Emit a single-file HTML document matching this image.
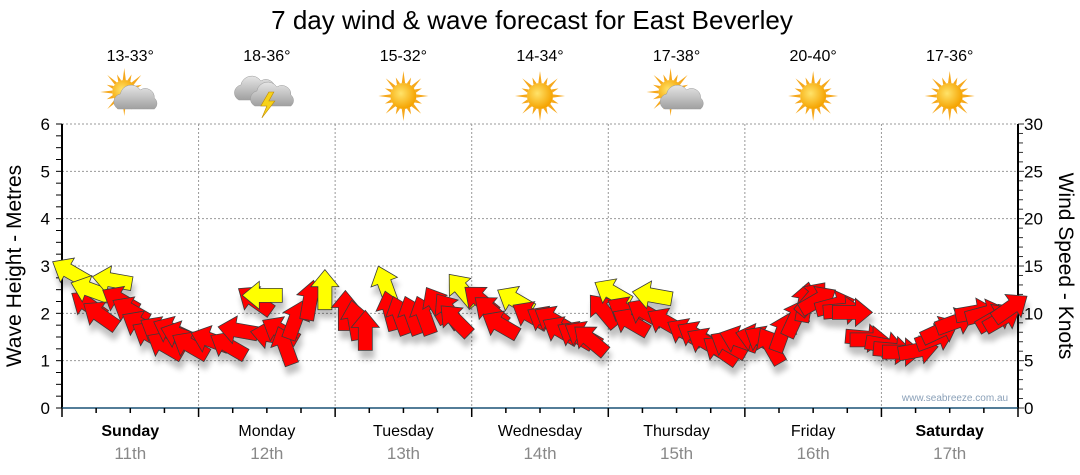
<!DOCTYPE html>
<html><head><meta charset="utf-8"><style>
html,body{margin:0;padding:0;background:#fff;}
svg{display:block;font-family:"Liberation Sans",sans-serif;}
</style></head><body>
<svg id="c" width="1080" height="475" viewBox="0 0 1080 475">
<defs>
<filter id="sh" x="-50%" y="-50%" width="200%" height="200%"><feGaussianBlur in="SourceAlpha" stdDeviation="3"/><feOffset dx="2" dy="8"/><feComponentTransfer><feFuncA type="linear" slope="0.25"/></feComponentTransfer><feMerge><feMergeNode/><feMergeNode in="SourceGraphic"/></feMerge></filter>
<radialGradient id="sunG" cx="40%" cy="40%" r="60%"><stop offset="0" stop-color="#ffe36a"/><stop offset="1" stop-color="#f5a300"/></radialGradient>
<linearGradient id="cloudG" x1="0" y1="0" x2="0" y2="1"><stop offset="0" stop-color="#e6e6e6"/><stop offset="1" stop-color="#a0a0a0"/></linearGradient>
</defs>
<text x="532" y="29" text-anchor="middle" font-size="26" fill="#000">7 day wind &amp; wave forecast for East Beverley</text>
<g id="grid"></g>
<g id="axes"></g>
<g id="icons"></g>
<g id="arrows" filter="url(#sh)"></g>
<text x="955" y="401" text-anchor="middle" font-size="10" fill="#8aa0b8">www.seabreeze.com.au</text>
<text transform="translate(21,266) rotate(-90)" text-anchor="middle" font-size="21">Wave Height - Metres</text>
<text transform="translate(1059,266) rotate(90)" text-anchor="middle" font-size="21">Wind Speed - Knots</text>
</svg>
<script>
const days=["Sunday","Monday","Tuesday","Wednesday","Thursday","Friday","Saturday"];
const dates=["11th","12th","13th","14th","15th","16th","17th"];
const boldDays=[true,false,false,false,false,false,true];
const temps=["13-33°","18-36°","15-32°","14-34°","17-38°","20-40°","17-36°"];
const weather=["partly","storm","sun","sun","partly","sun","sun"];
const waveTicks=[0,1,2,3,4,5,6];
const windTicks=[0,5,10,15,20,25,30];
const hours=[1.4,4.6,4.9,8.8,12,13.7,15.5,18.1,20.7,22.5,26,29.2,33.9,35.2,36.6,39.2,41,43.6,46.2,49.8,51.5,53.3,56.8,59.4,61.5,63.6,65.8,69.1,70.3,75.3,77,79.6,82.3,84.9,87.6,90.2,92.8,95.1,96.7,99,102.5,103.7,106,109.5,113,115.7,118.9,121.8,124.5,126.6,128.9,130.6,132.9,135.9,138.9,141.2,144.7,147.7,150.5,153.5,157,160.5,164,166.7,
 6.7,10.2,16.9,19.3,30.9,38.3,57.7,67.9,73.5,86.2,91.5,99.9,111.3,117.1,123.1,131.8,137.3,142,146.1,154.4,162.3,165.3];
const knots=[14.4,10.9,12.5,13.5,10.3,8.8,7.7,6.6,7.7,6.6,7.2,6.6,11.4,11.9,7.7,6.6,9.3,11.4,12.5,10.3,9.3,8.2,13,9.8,9.8,9.8,10.9,9.3,12.5,10.3,8.8,11.4,9.8,9.3,8.2,7.7,7.2,10.3,12.2,10.3,10.1,11.9,9.1,8,7,6.1,7.2,7.4,6.6,8,9.5,11.2,11.4,10.9,10.1,7.4,6.6,5.9,6.1,7.4,9.1,10.1,9.5,10.6,
 9.8,11.4,8.2,8.2,8.2,8.2,10.3,10.3,11.4,9.3,7.7,9.1,7.7,6.7,7.2,11.6,10.3,7.2,6.1,8.2,10,9.5];
const dirs=[300,305,290,280,300,300,300,300,290,300,290,300,305,270,280,340,20,10,0,0,350,0,340,340,340,340,330,315,320,310,300,300,300,300,300,300,310,320,300,300,300,280,300,300,300,305,290,285,330,20,25,10,60,75,90,95,100,90,80,70,70,80,60,55,
 305,300,300,295,280,300,345,325,310,300,300,300,300,300,300,40,85,90,95,65,75,60];
const gusty=[1,0,1,1,0,0,0,0,0,0,0,0,0,1,0,0,0,0,1,0,0,0,1,0,0,0,0,0,1,0,0,1,0,0,0,0,0,0,1,0,0,1,0,0,0,0,0,0,0,0,0,0,0,0,0,0,0,0,0,0,0,0,0,0,
 0,0,0,0,0,0,0,0,0,0,0,0,0,0,0,0,0,0,0,0,0,0];

const NS="http://www.w3.org/2000/svg";
const X0=62,X1=1018,Y0=408,Y1=124;
const xH=h=>X0+h*(X1-X0)/168;
const yW=m=>Y0-m*(Y0-Y1)/6;
const yK=k=>Y0-k*(Y0-Y1)/30;
function mk(t,a,p){const e=document.createElementNS(NS,t);for(const k in a)e.setAttribute(k,a[k]);(p||document.getElementById('c')).appendChild(e);return e;}
const grid=document.getElementById('grid'),axes=document.getElementById('axes');
waveTicks.forEach((m,i)=>{
  if(i>0){const l=mk('line',{x1:X0,x2:X1,y1:yW(m),y2:yW(m),stroke:'#999','stroke-dasharray':'2,2','stroke-width':1},grid);
  
  }
  const t=mk('text',{x:50,y:yW(m)+6,'text-anchor':'end','font-size':17},axes);t.textContent=m;
  
  
});
for(let q=0;q<=24;q++){mk('line',{x1:X0-6,x2:X0,y1:yW(q/4),y2:yW(q/4),stroke:'#000','stroke-width':1},axes);}
windTicks.forEach(k=>{
  const t=mk('text',{x:1024,y:yK(k)+6,'font-size':17},axes);t.textContent=k;
  
  
});
for(let k=0;k<=30;k++){mk('line',{x1:X1,x2:X1+(k%5==0?6:5),y1:yK(k),y2:yK(k),stroke:'#333','stroke-width':1},axes);}
for(let d=1;d<7;d++){const l=mk('line',{x1:xH(d*24),x2:xH(d*24),y1:Y1,y2:Y0,stroke:'#999','stroke-dasharray':'2,2'},grid);
  
  }
mk('line',{x1:X0,x2:X0,y1:Y1,y2:Y0,stroke:'#000','stroke-width':2},axes);
mk('line',{x1:X1,x2:X1,y1:Y1,y2:Y0,stroke:'#000','stroke-width':2},axes);
mk('line',{x1:X0,x2:X1,y1:Y0,y2:Y0,stroke:'#1a5276','stroke-width':1.5},axes);
for(let h=0;h<=168;h+=6){mk('line',{x1:xH(h),x2:xH(h),y1:Y0,y2:Y0+(h%24==0?9:5),stroke:'#000','stroke-width':1.5},axes);}
days.forEach((d,i)=>{
  const cx=xH(i*24+12);
  const t=mk('text',{x:cx,y:436,'text-anchor':'middle','font-size':16,'font-weight':boldDays[i]?'bold':'normal'},axes);t.textContent=d;
  
  
  const t2=mk('text',{x:cx,y:459,'text-anchor':'middle','font-size':17,fill:'#888'},axes);t2.textContent=dates[i];
  
  
  const t3=mk('text',{x:cx,y:61,'text-anchor':'middle','font-size':16},axes);t3.textContent=temps[i];
  
  
  drawIcon(weather[i],cx,96);
});
function sun(g,x,y,r){
  for(let a=0;a<360;a+=22.5){const rad=a*Math.PI/180,L=(a/22.5)%2?r+7:r+12;
    const p=[[x+Math.cos(rad)*L,y+Math.sin(rad)*L],[x+Math.cos(rad+0.13)*r,y+Math.sin(rad+0.13)*r],[x+Math.cos(rad-0.13)*r,y+Math.sin(rad-0.13)*r]];
    mk('polygon',{points:p.map(q=>q.join(',')).join(' '),fill:'#f6a81c'},g);}
  mk('circle',{cx:x,cy:y,r:r,fill:'url(#sunG)'},g);
}
function cloud(g,x,y,s){
  const p=`M${x-18*s},${y+10*s} a8,8 0 0 1 2,-15 a11,11 0 0 1 20,-4 a9,9 0 0 1 14,8 a7,7 0 0 1 0,11 z`;
  mk('path',{d:p,fill:'url(#cloudG)',stroke:'#999','stroke-width':0.5,transform:`translate(${x*(1-s)},${y*(1-s)}) scale(${s})`},g);
}
function drawIcon(type,x,y){
  const g=mk('g',{},document.getElementById('icons'));
  
  
  if(type==='sun'){sun(g,x,y,13);}
  else if(type==='partly'){sun(g,x-6,y-4,12);cloud(g,x+6,y+3,1);}
  else{cloud(g,x-10,y-6,1);cloud(g,x+6,y,1);
    mk('polygon',{points:`${x+2},${y-4} ${x-6},${y+10} ${x},${y+10} ${x-5},${y+22} ${x+8},${y+5} ${x+2},${y+5} ${x+7},${y-4}`,fill:'#f7d21a',stroke:'#c08a00','stroke-width':0.6},g);}
}
const ag=document.getElementById('arrows');
const order=hours.map((h,i)=>i).sort((a,b)=>hours[a]-hours[b]);
order.forEach(i=>{
  const x=xH(hours[i]),y=yK(knots[i]);
  const p=mk('polygon',{points:'-7,20 7,20 7,-3 14,-3 0,-20 -14,-3 -7,-3',fill:gusty[i]?'#ffff00':'#ff0000',stroke:'#3a3a3a','stroke-width':0.8,'stroke-linejoin':'miter',transform:`translate(${x},${y}) rotate(${dirs[i]})`},ag);
  
  
});
</script>
</body></html>
